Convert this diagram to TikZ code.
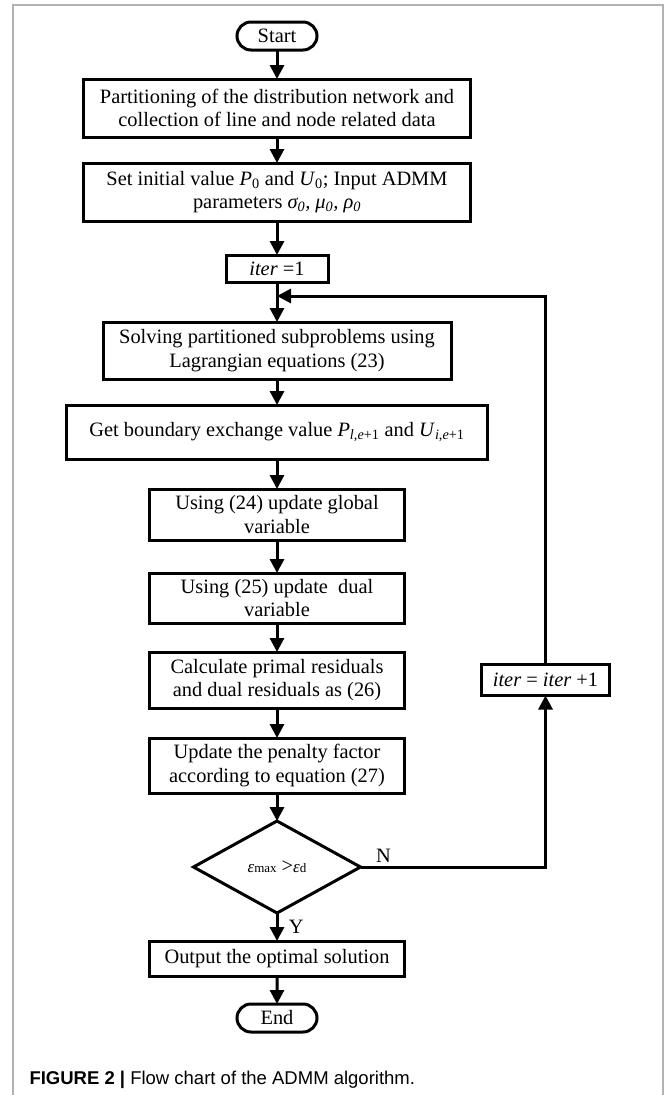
\documentclass[tikz,border=0pt]{standalone}
\usepackage{fontspec}
\setmainfont{Liberation Serif}
\newfontfamily\capfont{Liberation Sans}
\usetikzlibrary{arrows.meta,positioning,shapes.geometric,shapes.misc}

\begin{document}
\begin{tikzpicture}[>={Triangle[length=14pt,width=14pt]},line width=3pt,
	font=\fontsize{20.4pt}{23.5pt}\selectfont,
	proc/.style={draw,rectangle,align=center,inner sep=1pt,outer sep=0pt},
	term/.style={draw,rounded rectangle,minimum width=80pt,minimum height=28pt,inner sep=0pt,outer sep=0pt},
	decision/.style={draw,diamond,aspect=1.8,inner sep=0pt,outer sep=0pt,minimum width=167pt,minimum height=92pt}]

\useasboundingbox (0,0) rectangle (665pt,-1095pt);
\draw[gray!60,line width=1.5pt] (13pt,-1095pt) -- (13pt,-5pt) -- (663pt,-5pt) -- (663pt,-1095pt);

\node[term]   (start) at (277pt,-36pt)      				{Start};
\node[proc,minimum width=387pt,minimum height=58pt]   (part)[below=29pt of start]
	{Partitioning of the distribution network and\\collection of line and node related data};
\node[proc,minimum width=387pt,minimum height=58pt]   (init)[below=26pt of part]
	{Set initial value \textit{P}\textsubscript{0} and \textit{U}\textsubscript{0}; Input ADMM\\parameters \textit{σ\textsubscript{0}, μ\textsubscript{0}, ρ\textsubscript{0}}};
\node[proc,minimum width=102pt,minimum height=27pt]   (iter1)[below=34pt of init]      	{\textit{iter} =1};
\coordinate[below=14pt of iter1] (join);
\node[proc,minimum width=348pt,minimum height=57pt]   (solve)[below=40pt of iter1]
	{Solving partitioned subproblems using\\Lagrangian equations (23)};
\node[proc,minimum width=421pt,minimum height=54pt]   (getb)[below=26pt of solve]
	{Get boundary exchange value \textit{P}\textsubscript{\textit{l},\textit{e}+1} and \textit{U}\textsubscript{\textit{i},\textit{e}+1}};
\node[proc,minimum width=255pt,minimum height=51pt]   (upd24)[below=30pt of getb]
	{Using (24) update global\\variable};
\node[proc,minimum width=255pt,minimum height=50pt]   (upd25)[below=33pt of upd24]
	{Using (25) update\ \ dual\\variable};
\node[proc,minimum width=255pt,minimum height=56pt]   (calc)[below=29pt of upd25]
	{Calculate primal residuals\\and dual residuals as (26)};
\node[proc,minimum width=255pt,minimum height=55pt]   (pen)[below=30pt of calc]
	{Update the penalty factor\\according to equation (27)};
\node[decision]   (dec)[below=28pt of pen]
	{{\fontsize{17pt}{20pt}\selectfont\textit{ε}}{\fontsize{13pt}{15pt}\selectfont max} >{\fontsize{17pt}{20pt}\selectfont\textit{ε}}{\fontsize{13pt}{15pt}\selectfont d}};
\node[proc,minimum width=255pt,minimum height=35pt]   (out)[below=28pt of dec]      	{Output the optimal solution};
\node[term]   (end)[below=28pt of out]      				{End};
\node[proc,minimum width=128pt,minimum height=31pt]   (inc)[right=77pt of calc]      	{\textit{iter} = \textit{iter} +1};

\node[anchor=base west,inner sep=0pt,font=\capfont\fontsize{18.5pt}{22pt}\selectfont] (cap) at (28pt,-1084pt)
	{\textbf{FIGURE 2 |} Flow chart of the ADMM algorithm.};

	\path[->] (start)  edge (part)
						(part)  edge (init)
						(init)  edge (iter1)
						(iter1)  edge (solve)
						(solve)  edge (getb)
						(getb)  edge (upd24)
						(upd24)  edge (upd25)
						(upd25)  edge (calc)
						(calc)  edge (pen)
						(pen)  edge (dec)
						(dec)  edge node[right,xshift=7pt]{Y} (out)
						(out)  edge (end);

	\draw[->] (dec.east) -| node[pos=0.062,above]{N} (inc.south);
	\draw[->] (inc.north) |- (join);
\end{tikzpicture}
\end{document}
